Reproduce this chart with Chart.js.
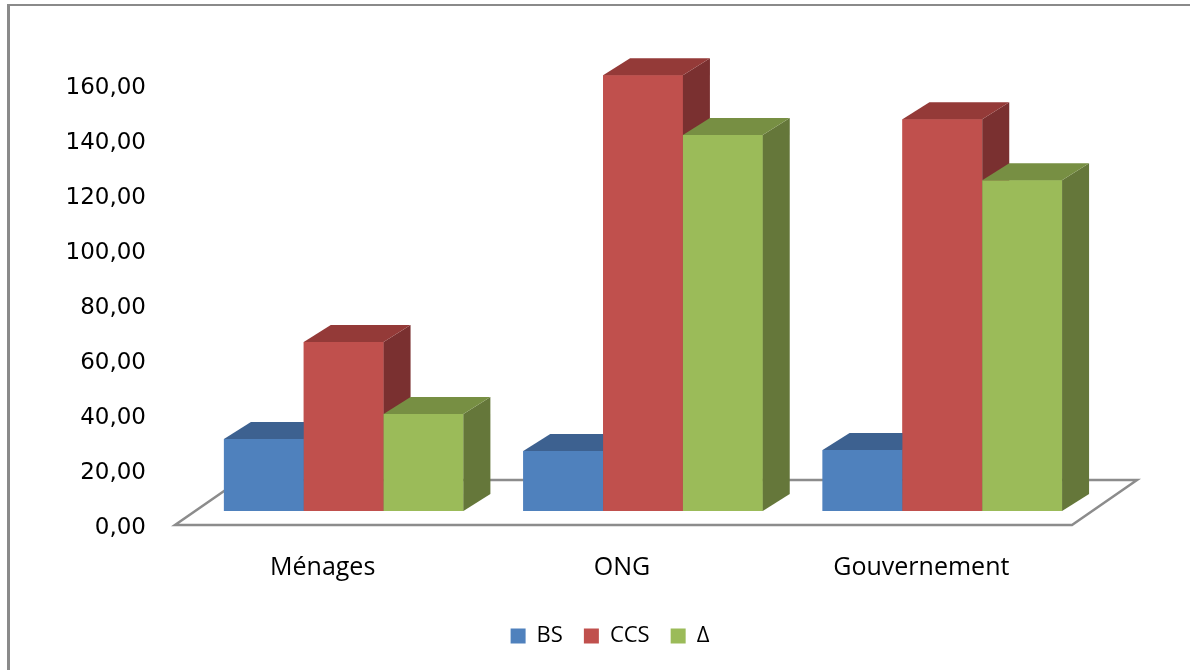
<!DOCTYPE html>
<html>
<head>
<meta charset="utf-8">
<script src="https://cdn.jsdelivr.net/npm/chart.js@4.4.1/dist/chart.umd.min.js"></script>
<style>
  html, body { margin: 0; padding: 0; background: #fff; }
  #wrap { position: relative; width: 1190px; height: 670px; overflow: hidden; }
  #cadre { position: absolute; left: 7px; top: 4px; right: -10px; bottom: -10px;
           border-top: 2px solid #8a8a8a; border-left: 3px solid #8a8a8a; }
  canvas { position: absolute; left: 0; top: 0; }
</style>
</head>
<body>
<div id="wrap">
  <div id="cadre"></div>
  <canvas id="graphique" width="1190" height="670"></canvas>
</div>
<script>
// données
const categories = ['Ménages', 'ONG', 'Gouvernement'];
const valeursBS = [26.2, 21.8, 22.2];
const valeursCCS = [61.5, 158.5, 142.5];
const valeursDelta = [35.3, 136.7, 120.3];
const seriesNoms = ['BS', 'CCS', 'Δ'];

// couleurs: face avant, dessus, côté
const couleursFace = ['#4F81BD', '#C0504D', '#9BBB59'];
const couleursDessus = ['#3D6190', '#943A38', '#778F43'];
const couleursCote = ['#385C89', '#7A3030', '#65773A'];

const PROF_X = 27;
const PROF_Y = 17;

// sol en perspective, dessiné derrière les barres
const solPlugin = {
    id: 'sol3d',
    afterLayout(chart) {
        // la légende est centrée un peu plus à droite que le canevas
        if (chart.legend) {
            chart.legend.left += 64;
            chart.legend.right += 64;
        }
    },
    beforeDatasetsDraw(chart) {
        const { ctx, chartArea } = chart;
        const fl = chartArea.left - 19;
        const fr = chartArea.right - 20;
        const fy = chartArea.bottom + 14;
        ctx.save();
        ctx.beginPath();
        ctx.moveTo(fl, fy);
        ctx.lineTo(fr, fy);
        ctx.lineTo(fr + 65, fy - 45);
        ctx.lineTo(fl + 65, fy - 45);
        ctx.closePath();
        ctx.fillStyle = '#ffffff';
        ctx.fill();
        ctx.strokeStyle = '#8c8c8c';
        ctx.lineWidth = 2.5;
        ctx.stroke();
        ctx.restore();
    }
};

// barres en relief : on repeint chaque barre de gauche à droite
// (face avant puis côté puis dessus) pour que les recouvrements soient justes
const barres3dPlugin = {
    id: 'barres3d',
    afterDatasetsDraw(chart) {
        const { ctx } = chart;
        const nbSeries = chart.data.datasets.length;
        categories.forEach((c, j) => {
            for (let i = 0; i < nbSeries; i++) {
                const el = chart.getDatasetMeta(i).data[j];
                if (!el) continue;
                el.draw(ctx, chart.chartArea);
                const { x, y, base, width } = el.getProps(['x', 'y', 'base', 'width'], true);
                const g = x - width / 2;
                const d = x + width / 2;
                ctx.save();
                // côté
                ctx.beginPath();
                ctx.moveTo(d, y);
                ctx.lineTo(d + PROF_X, y - PROF_Y);
                ctx.lineTo(d + PROF_X, base - PROF_Y);
                ctx.lineTo(d, base);
                ctx.closePath();
                ctx.fillStyle = couleursCote[i];
                ctx.fill();
                // dessus
                ctx.beginPath();
                ctx.moveTo(g, y);
                ctx.lineTo(g + PROF_X, y - PROF_Y);
                ctx.lineTo(d + PROF_X, y - PROF_Y);
                ctx.lineTo(d, y);
                ctx.closePath();
                ctx.fillStyle = couleursDessus[i];
                ctx.fill();
                ctx.restore();
            }
        });
    }
};

Chart.defaults.font.family = '"Open Sans", sans-serif';
Chart.defaults.color = '#000';

new Chart(document.getElementById('graphique'), {
    type: 'bar',
    data: {
        labels: categories,
        datasets: [valeursBS, valeursCCS, valeursDelta].map((vals, i) => ({
            label: seriesNoms[i],
            data: vals,
            backgroundColor: couleursFace[i],
            borderWidth: 0,
            categoryPercentage: 0.8,
            barPercentage: 1
        }))
    },
    options: {
        responsive: false,
        animation: false,
        layout: { padding: { top: 71, right: 98, left: 0, bottom: 13 } },
        plugins: {
            legend: {
                position: 'bottom',
                labels: {
                    boxWidth: 15,
                    boxHeight: 15,
                    padding: 21,
                    font: { size: 22 },
                    color: '#000'
                }
            },
            tooltip: { enabled: false }
        },
        scales: {
            x: {
                grid: { display: false, drawTicks: false },
                border: { display: false },
                ticks: {
                    padding: 42,
                    labelOffset: -21,
                    font: { size: 25 },
                    color: '#000'
                },
                afterFit(scale) { scale.height = 93; }
            },
            y: {
                min: 0,
                max: 160,
                grid: { display: false, drawTicks: false },
                border: { display: false },
                ticks: {
                    stepSize: 20,
                    padding: 48,
                    labelOffset: 17,
                    font: { family: '"DejaVu Sans", sans-serif', size: 23 },
                    color: '#000',
                    callback: v => v.toFixed(2).replace('.', ',')
                },
                afterFit(scale) { scale.width = 194; }
            }
        }
    },
    plugins: [solPlugin, barres3dPlugin]
});
</script>
</body>
</html>
